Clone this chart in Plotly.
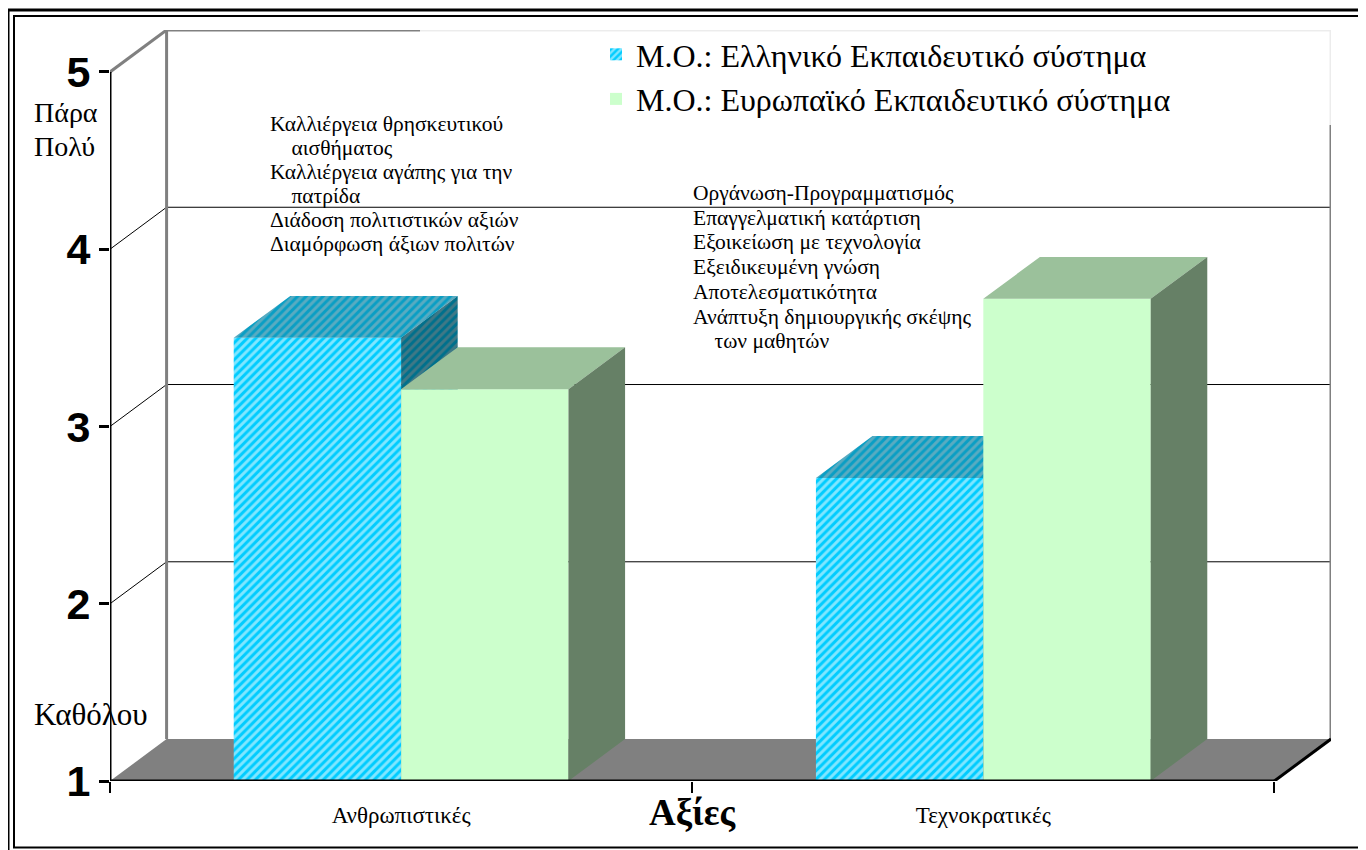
import plotly.graph_objects as go

# ---------------- data ----------------
categories = ["Ανθρωπιστικές", "Τεχνοκρατικές"]
series_names = ["Μ.Ο.: Ελληνικό Εκπαιδευτικό σύστημα",
                "Μ.Ο.: Ευρωπαϊκό Εκπαιδευτικό σύστημα"]
greek_values = [3.50, 2.71]
europe_values = [3.21, 3.72]
y_ticks = [1, 2, 3, 4, 5]
y_top_label = ["Πάρα", "Πολύ"]
y_bottom_label = "Καθόλου"
x_title = "Αξίες"
note_humanistic = ["Καλλιέργεια θρησκευτικού", "&nbsp;&nbsp;&nbsp;&nbsp;αισθήματος",
                   "Καλλιέργεια αγάπης για την", "&nbsp;&nbsp;&nbsp;&nbsp;πατρίδα",
                   "Διάδοση πολιτιστικών αξιών", "Διαμόρφωση άξιων πολιτών"]
note_technocratic = ["Οργάνωση-Προγραμματισμός", "Επαγγελματική κατάρτιση",
                     "Εξοικείωση με τεχνολογία", "Εξειδικευμένη γνώση",
                     "Αποτελεσματικότητα", "Ανάπτυξη δημιουργικής σκέψης",
                     "&nbsp;&nbsp;&nbsp;&nbsp;των μαθητών"]

# ---------------- style / geometry ----------------
OFF = 8                                       # page body margin
W, H = 1366 - OFF, 850 - OFF
SL, SR, ST, SB = 110, 1331, 30, 781           # plot area in screen pixels
BAR_W = 0.2875                                # bar width (category units)
DX, DY = 0.0972, 0.2366                       # 3-D depth offset (x units, value units)
X0, X1 = -0.5, len(categories) - 0.5
YMIN, YMAX = 1, 5
SERIF = "Liberation Serif"
SANS = "Liberation Sans"

C_G_FRONT, C_G_STRIPE = "#00CCFF", "#FFFFFF"
C_G_TOP, C_G_TOP_S = "#0A9EC4", "#A8B8BE"
C_G_SIDE, C_G_SIDE_S = "#00708C", "#808080"
C_E_FRONT, C_E_TOP, C_E_SIDE = "#CCFFCC", "#9BC19B", "#668066"
C_FLOOR, C_WALL = "#808080", "#808080"


def px(x):
    return (x - SL) / (SR - SL)


def py(y):
    return (SB - y) / (SB - ST)


def top_face(xs, vals, left_off):
    X, Y = [], []
    for c, v in zip(xs, vals):
        a = c + left_off
        b = a + BAR_W
        X += [a, b, b + DX, a + DX, a, None]
        Y += [v, v, v + DY, v + DY, v, None]
    return X, Y


def side_face(xs, vals, left_off):
    X, Y = [], []
    for c, v in zip(xs, vals):
        b = c + left_off + BAR_W
        X += [b, b, b + DX, b + DX, b, None]
        Y += [YMIN, v, v + DY, YMIN + DY, YMIN, None]
    return X, Y


xpos = list(range(len(categories)))
fig = go.Figure()

# ---- Greek series (base subplot) ----
fig.add_trace(go.Bar(
    x=xpos, y=[v - YMIN for v in greek_values], base=YMIN,
    width=BAR_W, offset=-BAR_W, name=series_names[0], legendgroup="g",
    marker=dict(color=C_G_FRONT, line=dict(width=0),
                pattern=dict(shape="/", fgcolor=C_G_STRIPE, bgcolor=C_G_FRONT,
                             size=6, solidity=0.5)),
    xaxis="x", yaxis="y", hoverinfo="skip"))
tx, ty = top_face(xpos, greek_values, -BAR_W)
fig.add_trace(go.Scatter(x=tx, y=ty, mode="lines", fill="toself", line=dict(width=0),
                         fillcolor=C_G_TOP,
                         fillpattern=dict(shape="/", fgcolor=C_G_TOP_S, bgcolor=C_G_TOP,
                                          size=6, solidity=0.5),
                         showlegend=False, hoverinfo="skip", xaxis="x", yaxis="y"))
sx, sy = side_face(xpos, greek_values, -BAR_W)
fig.add_trace(go.Scatter(x=sx, y=sy, mode="lines", fill="toself", line=dict(width=0),
                         fillcolor=C_G_SIDE,
                         fillpattern=dict(shape="/", fgcolor=C_G_SIDE_S, bgcolor=C_G_SIDE,
                                          size=6, solidity=0.5),
                         showlegend=False, hoverinfo="skip", xaxis="x", yaxis="y"))

# ---- European series (overlay subplot, drawn above) ----
fig.add_trace(go.Bar(
    x=xpos, y=[v - YMIN for v in europe_values], base=YMIN,
    width=BAR_W, offset=0, name=series_names[1], legendgroup="e",
    marker=dict(color=C_E_FRONT, line=dict(width=0)),
    xaxis="x2", yaxis="y2", hoverinfo="skip"))
tx, ty = top_face(xpos, europe_values, 0)
fig.add_trace(go.Scatter(x=tx, y=ty, mode="lines", fill="toself", line=dict(width=0),
                         fillcolor=C_E_TOP, showlegend=False, hoverinfo="skip",
                         xaxis="x2", yaxis="y2"))
sx, sy = side_face(xpos, europe_values, 0)
fig.add_trace(go.Scatter(x=sx, y=sy, mode="lines", fill="toself", line=dict(width=0),
                         fillcolor=C_E_SIDE, showlegend=False, hoverinfo="skip",
                         xaxis="x2", yaxis="y2"))

# ---------------- walls, floor, grid (below traces) ----------------
shapes = []
shapes.append(dict(type="path", xref="x", yref="y", layer="below", line=dict(width=0),
                   fillcolor=C_FLOOR,
                   path=f"M{X0},{YMIN} L{X1},{YMIN} L{X1 + DX},{YMIN + DY} L{X0 + DX},{YMIN + DY} Z"))
for v in y_ticks[1:-1]:
    shapes.append(dict(type="line", xref="x", yref="y", layer="below",
                       x0=X0 + DX, x1=X1 + DX, y0=v + DY, y1=v + DY,
                       line=dict(color="black", width=1)))
    shapes.append(dict(type="line", xref="x", yref="y", layer="below",
                       x0=X0, x1=X0 + DX, y0=v, y1=v + DY,
                       line=dict(color="black", width=1)))
shapes.append(dict(type="line", xref="x", yref="y", layer="below",
                   x0=X0, x1=X0 + DX, y0=YMAX, y1=YMAX + DY, line=dict(color=C_WALL, width=3)))
shapes.append(dict(type="line", xref="x", yref="y", layer="below",
                   x0=X0 + DX, x1=X0 + DX, y0=YMIN + DY, y1=YMAX + DY, line=dict(color=C_WALL, width=3)))
shapes.append(dict(type="line", xref="x", yref="y", layer="below",
                   x0=X0 + DX, x1=X1 + DX, y0=YMAX + DY, y1=YMAX + DY, line=dict(color=C_WALL, width=3)))
shapes.append(dict(type="line", xref="x", yref="y", layer="below",
                   x0=X1 + DX, x1=X1 + DX, y0=YMIN + DY, y1=YMAX + DY, line=dict(color=C_WALL, width=3)))
# front axes
shapes.append(dict(type="line", xref="x", yref="y", layer="above",
                   x0=X0, x1=X0, y0=YMIN, y1=YMAX, line=dict(color="black", width=3)))
shapes.append(dict(type="line", xref="x", yref="y", layer="above",
                   x0=X0, x1=X1, y0=YMIN, y1=YMIN, line=dict(color="black", width=3)))
shapes.append(dict(type="line", xref="x", yref="y", layer="above",
                   x0=X1, x1=X1 + DX, y0=YMIN, y1=YMIN + DY, line=dict(color="black", width=3)))
# legend box background (semi-opaque white)
shapes.append(dict(type="rect", xref="paper", yref="paper", layer="above",
                   x0=px(420), x1=px(1345), y0=py(125), y1=py(27),
                   fillcolor="white", opacity=0.85, line=dict(width=0)))
# outer double frame
shapes.append(dict(type="rect", xref="paper", yref="paper", layer="above",
                   x0=px(8), x1=px(1390), y0=py(860), y1=py(10),
                   line=dict(color="black", width=3)))
shapes.append(dict(type="rect", xref="paper", yref="paper", layer="above",
                   x0=px(14), x1=px(1385), y0=py(847.5), y1=py(16),
                   line=dict(color="black", width=2)))

annotations = [
    dict(text=y_bottom_label, xref="paper", yref="paper", x=px(32), y=py(714),
         xanchor="left", yanchor="middle", align="left", showarrow=False,
         font=dict(family=SERIF, size=31, color="black")),
    dict(text=f"<b>{x_title}</b>", xref="x", yref="paper", x=(xpos[0] + xpos[1]) / 2, y=py(812),
         xanchor="center", yanchor="middle", showarrow=False,
         font=dict(family=SERIF, size=37, color="black")),
]
for i, line in enumerate(y_top_label):
    annotations.append(dict(text=line, xref="paper", yref="paper", x=px(32), y=py(112 + i * 34),
                            xanchor="left", yanchor="middle", align="left", showarrow=False,
                            font=dict(family=SERIF, size=28, color="black")))
for i, line in enumerate(note_humanistic):
    annotations.append(dict(text=line, xref="paper", yref="paper", x=px(268), y=py(124 + i * 24),
                            xanchor="left", yanchor="middle", align="left", showarrow=False,
                            font=dict(family=SERIF, size=21.5, color="black")))
for i, line in enumerate(note_technocratic):
    annotations.append(dict(text=line, xref="paper", yref="paper", x=px(691), y=py(193 + i * 24.7),
                            xanchor="left", yanchor="middle", align="left", showarrow=False,
                            font=dict(family=SERIF, size=21.5, color="black")))

fig.update_layout(
    width=W, height=H,
    margin=dict(l=SL - OFF, r=W - (SR - OFF), t=ST - OFF, b=H - (SB - OFF), pad=0),
    paper_bgcolor="white", plot_bgcolor="white",
    showlegend=True,
    legend=dict(x=px(596), y=py(27), xanchor="left", yanchor="top",
                bgcolor="rgba(0,0,0,0)", borderwidth=0, tracegroupgap=14,
                font=dict(family=SERIF, size=32, color="black"), traceorder="normal"),
    xaxis=dict(range=[X0, X1 + DX], showgrid=False, zeroline=False, showline=False,
               tickvals=xpos, ticktext=categories, ticks="",
               tickfont=dict(family=SERIF, size=23, color="black"), ticklabelstandoff=18,
               minor=dict(tickvals=[X0 + i for i in range(len(categories) + 1)],
                          ticks="outside", ticklen=11, tickwidth=2, tickcolor="black")),
    yaxis=dict(range=[YMIN, YMAX + DY], showgrid=False, zeroline=False, showline=False,
               tickvals=y_ticks, ticktext=[f"<b>{t}</b>" for t in y_ticks],
               ticks="outside", ticklen=10, tickwidth=3, tickcolor="black",
               tickfont=dict(family=SANS, size=43, color="black")),
    xaxis2=dict(overlaying="x", matches="x", visible=False),
    yaxis2=dict(overlaying="y", matches="y", visible=False),
    shapes=shapes, annotations=annotations,
)

fig.write_html("out.html")
